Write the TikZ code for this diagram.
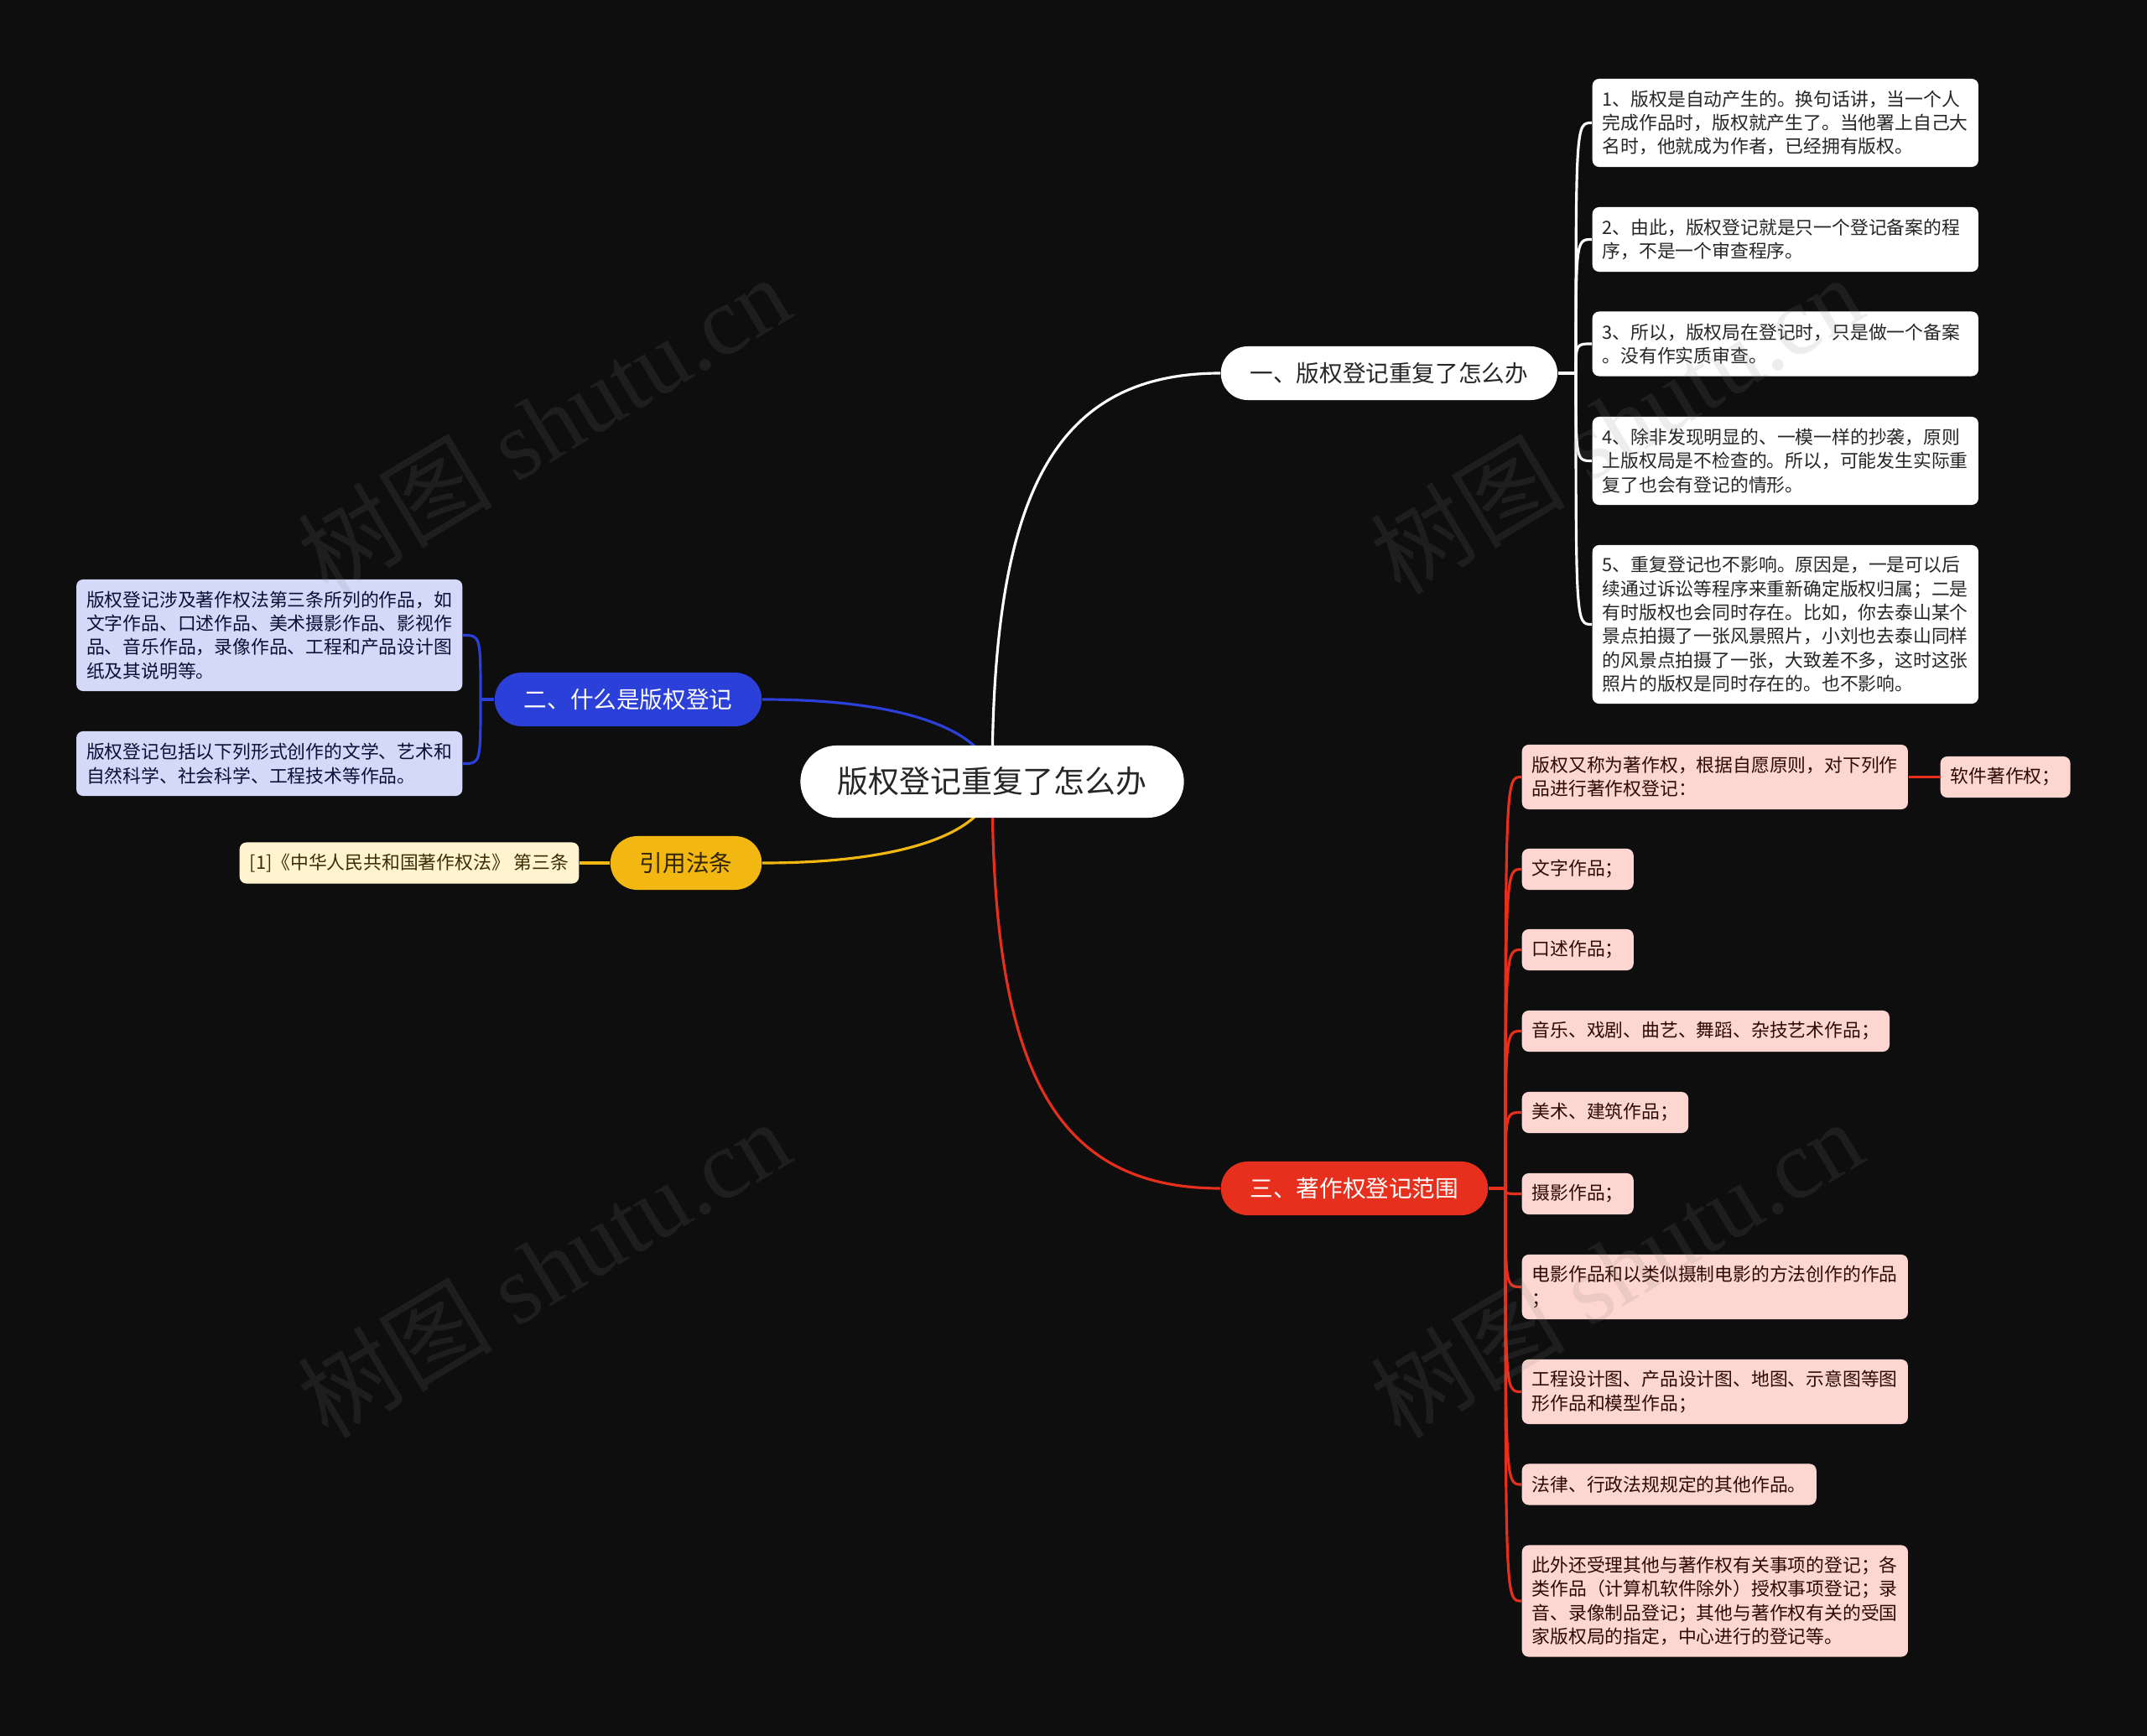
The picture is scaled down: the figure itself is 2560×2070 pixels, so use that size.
\documentclass[tikz,border=0pt]{standalone}
\usepackage{fontspec}
\usepackage{tikz}
\newfontfamily\cjk{Noto Sans CJK SC}
\newfontfamily\wmfont{Liberation Serif}
\definecolor{bgc}{HTML}{0E0E0E}
\definecolor{blu}{HTML}{2A40D8}
\definecolor{rd}{HTML}{E6301D}
\definecolor{ylw}{HTML}{F2B811}
\definecolor{bluleaf}{HTML}{D5D9F8}
\definecolor{rdleaf}{HTML}{FDD5D1}
\definecolor{ylwleaf}{HTML}{FFF3D0}
\definecolor{ink}{HTML}{262626}
\definecolor{wmc}{HTML}{808080}
\pgfdeclarelayer{bg}
\pgfsetlayers{bg,main}
\tikzset{
  every picture/.style={line join=round, line cap=round},
  link/.style={line width=0.9pt},
  leaf/.style={rounded corners=0.08cm, inner xsep=0.12cm, inner ysep=0.04cm, align=left,
    font=\cjk\fontsize{6.2pt}{8.05pt}\selectfont},
  nrows/.style={minimum height=#1*0.28cm+0.21cm},
  wide/.style={text width=4.36cm},
  wleaf/.style={leaf, fill=white, text=ink},
  bleaf/.style={leaf, fill=bluleaf, text=blu!25!black},
  rleaf/.style={leaf, fill=rdleaf, text=rd!20!black},
  yleaf/.style={leaf, fill=ylwleaf, text=ylw!25!black},
  topic/.style={rounded corners=0.32cm, minimum height=0.64cm, inner xsep=0.35cm, inner ysep=0pt,
    font=\cjk\fontsize{7.85pt}{9pt}\selectfont},
  wmark/.style={rotate=31, text=wmc, text opacity=0.14, font=\wmfont\fontsize{33pt}{33pt}\selectfont},
}

\begin{document}
\begin{tikzpicture}[x=0.01cm,y=-0.01cm]
\useasboundingbox (0,0) rectangle (2560,2070);
\node[fill=white, text=ink, rounded corners=0.43cm, minimum height=0.86cm, inner xsep=0.44cm, inner ysep=0pt,
  font=\cjk\fontsize{10.5pt}{12pt}\selectfont] (root) at (1183,932) {版权登记重复了怎么办};
\node[topic, fill=white, text=ink, anchor=west] (t1) at (1455,445) {一、版权登记重复了怎么办};
\node[topic, fill=blu, text=white, anchor=east] (t2) at (909,834) {二、什么是版权登记};
\node[topic, fill=rd, text=white, anchor=west] (t3) at (1455,1417) {三、著作权登记范围};
\node[topic, fill=ylw, text=ylw!20!black, anchor=east] (t4) at (909,1029) {引用法条};

\node[wleaf, wide, nrows=3, anchor=west] (w1) at (1898,146.5) {1、版权是自动产生的。换句话讲，当一个人\\完成作品时，版权就产生了。当他署上自己大\\名时，他就成为作者，已经拥有版权。};
\node[wleaf, wide, nrows=2, anchor=west] (w2) at (1898,285.5) {2、由此，版权登记就是只一个登记备案的程\\序，不是一个审查程序。};
\node[wleaf, wide, nrows=2, anchor=west] (w3) at (1898,410) {3、所以，版权局在登记时，只是做一个备案\\。没有作实质审查。};
\node[wleaf, wide, nrows=3, anchor=west] (w4) at (1898,549.5) {4、除非发现明显的、一模一样的抄袭，原则\\上版权局是不检查的。所以，可能发生实际重\\复了也会有登记的情形。};
\node[wleaf, wide, nrows=6, anchor=west] (w5) at (1898,744.5) {5、重复登记也不影响。原因是，一是可以后\\续通过诉讼等程序来重新确定版权归属；二是\\有时版权也会同时存在。比如，你去泰山某个\\景点拍摄了一张风景照片，小刘也去泰山同样\\的风景点拍摄了一张，大致差不多，这时这张\\照片的版权是同时存在的。也不影响。};

\node[bleaf, wide, nrows=4, anchor=east] (ba) at (552,757.5) {版权登记涉及著作权法第三条所列的作品，如\\文字作品、口述作品、美术摄影作品、影视作\\品、音乐作品，录像作品、工程和产品设计图\\纸及其说明等。};
\node[bleaf, wide, nrows=2, anchor=east] (bb) at (552,910.5) {版权登记包括以下列形式创作的文学、艺术和\\自然科学、社会科学、工程技术等作品。};

\node[yleaf, nrows=1, anchor=east] (ya) at (691,1029) {[1]《中华人民共和国著作权法》 第三条};

\node[rleaf, wide, nrows=2, anchor=west] (r1) at (1814,926.5) {版权又称为著作权，根据自愿原则，对下列作\\品进行著作权登记：};
\node[rleaf, nrows=1, anchor=west] (r1a) at (2313,926.5) {软件著作权；};
\node[rleaf, nrows=1, anchor=west] (r2) at (1814,1036.5) {文字作品；};
\node[rleaf, nrows=1, anchor=west] (r3) at (1814,1132.5) {口述作品；};
\node[rleaf, nrows=1, anchor=west] (r4) at (1814,1229.5) {音乐、戏剧、曲艺、舞蹈、杂技艺术作品；};
\node[rleaf, nrows=1, anchor=west] (r5) at (1814,1326.5) {美术、建筑作品；};
\node[rleaf, nrows=1, anchor=west] (r6) at (1814,1423.5) {摄影作品；};
\node[rleaf, wide, nrows=2, anchor=west] (r7) at (1814,1534.5) {电影作品和以类似摄制电影的方法创作的作品\\；};
\node[rleaf, wide, nrows=2, anchor=west] (r8) at (1814,1659.5) {工程设计图、产品设计图、地图、示意图等图\\形作品和模型作品；};
\node[rleaf, nrows=1, anchor=west] (r9) at (1814,1770) {法律、行政法规规定的其他作品。};
\node[rleaf, wide, nrows=4, anchor=west] (r10) at (1814,1909) {此外还受理其他与著作权有关事项的登记；各\\类作品（计算机软件除外）授权事项登记；录\\音、录像制品登记；其他与著作权有关的受国\\家版权局的指定，中心进行的登记等。};

\coordinate (f1) at (1879,445);
\coordinate (f2) at (573,834);
\coordinate (f3) at (1795,1417);

\begin{pgfonlayer}{bg}
\fill[bgc] (0,0) rectangle (2560,2070);
\draw[link,white] (root.center) .. controls (1183,600) and (1250,445) .. (t1.west);
\draw[link,rd] (root.center) .. controls (1183,1264) and (1250,1417) .. (t3.west);
\draw[link,blu] (root.center) .. controls (1183,880) and (1100,834) .. (t2.east);
\draw[link,ylw] (root.center) .. controls (1183,984) and (1100,1029) .. (t4.east);
\draw[link,white] (t1.east) -- (f1);
\foreach \i in {1,...,5}
  \draw[link,white] (f1) .. controls (f1 |- w\i.west) .. (w\i.west);
\draw[link,blu] (t2.west) -- (f2);
\foreach \i in {ba,bb}
  \draw[link,blu] (f2) .. controls (f2 |- \i.east) .. (\i.east);
\draw[link,ylw] (t4.west) -- (ya.east);
\draw[link,rd] (t3.east) -- (f3);
\foreach \i in {1,...,10}
  \draw[link,rd] (f3) .. controls (f3 |- r\i.west) .. (r\i.west);
\draw[link,rd] (r1.east) -- (r1a.west);
\end{pgfonlayer}

\foreach \p in {(648,506),(648,1512),(1927,506),(1927,1512)}
  \node[wmark] at \p {{\cjk 树图} shutu.cn};
\end{tikzpicture}
\end{document}
